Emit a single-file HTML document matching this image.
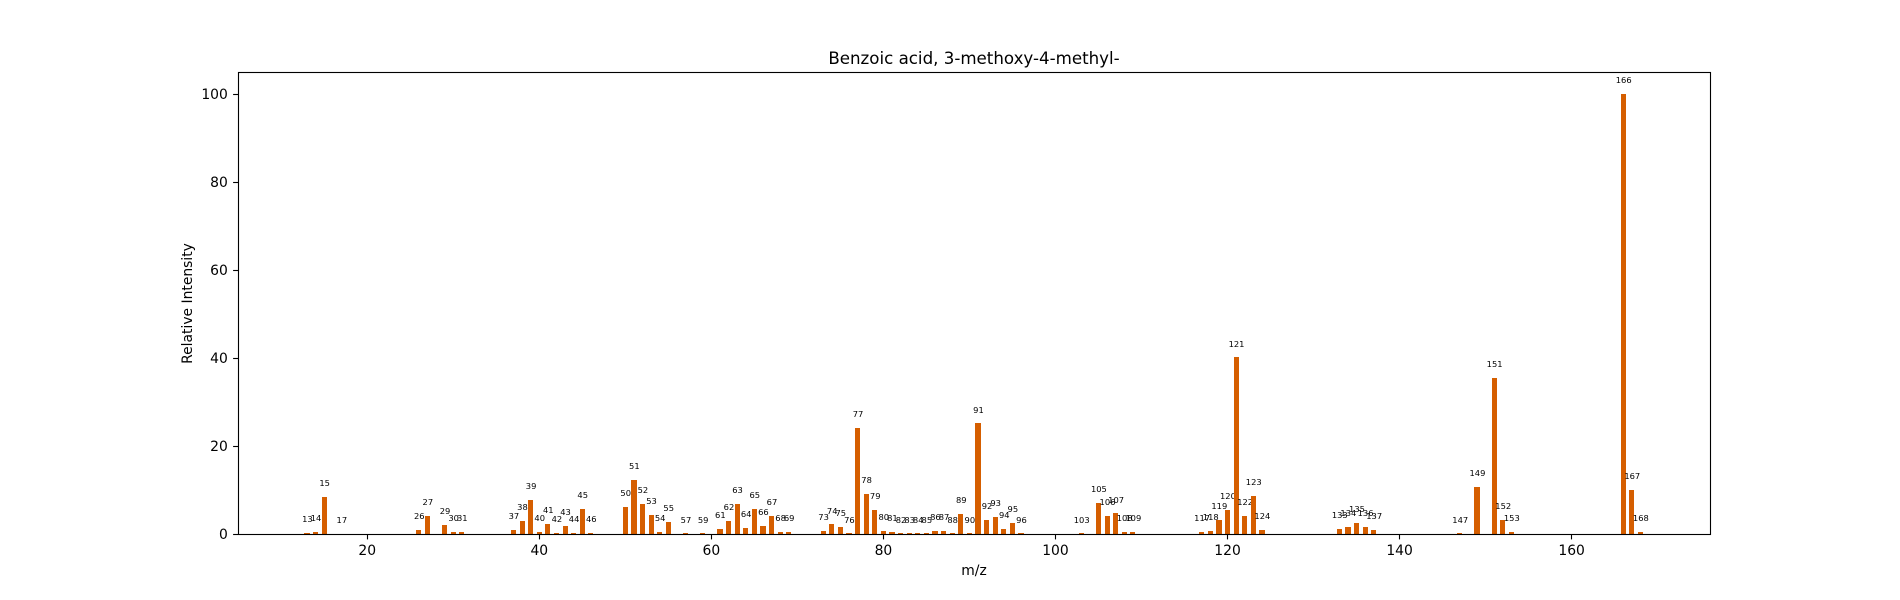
<!DOCTYPE html>
<html lang="en">
<head>
<meta charset="utf-8">
<title>Benzoic acid, 3-methoxy-4-methyl-</title>
<style>
  html, body { margin: 0; padding: 0; background: #ffffff; }
  svg { display: block; }
  text { font-family: "DejaVu Sans", "Liberation Sans", sans-serif; fill: #000000; }
</style>
</head>
<body>
<svg id="chart" xmlns="http://www.w3.org/2000/svg" width="1900" height="600" viewBox="0 0 1900 600">
  <rect x="0" y="0" width="1900" height="600" fill="#ffffff"></rect>
  <text x="974" y="64" font-size="16.67" text-anchor="middle">Benzoic acid, 3-methoxy-4-methyl-</text>
  <text x="974" y="575" font-size="13.89" text-anchor="middle">m/z</text>
  <text x="0" y="0" font-size="13.89" text-anchor="middle" transform="translate(192 303.5) rotate(-90)">Relative Intensity</text>
</svg>
<script>
const mzValues = [13,14,15,17,26,27,29,30,31,37,38,39,40,41,42,43,44,45,46,50,51,52,53,54,55,57,59,61,62,63,64,65,66,67,68,69,73,74,75,76,77,78,79,80,81,82,83,84,85,86,87,88,89,90,91,92,93,94,95,96,103,105,106,107,108,109,117,118,119,120,121,122,123,124,133,134,135,136,137,147,149,151,152,153,166,167,168];
const intensities = [0.3,0.5,8.5,0.1,1.0,4.2,2.1,0.5,0.5,1.0,3.0,7.8,0.5,2.35,0.3,1.9,0.3,5.75,0.3,6.2,12.35,6.9,4.4,0.5,2.8,0.2,0.2,1.15,2.95,6.8,1.35,5.7,1.8,4.1,0.45,0.45,0.7,2.25,1.6,0.2,24.1,9.1,5.45,0.7,0.45,0.2,0.2,0.2,0.2,0.7,0.7,0.2,4.55,0.2,25.2,3.2,3.85,1.15,2.5,0.2,0.2,7.05,4.1,4.75,0.45,0.45,0.45,0.7,3.2,5.45,40.2,4.1,8.65,0.9,1.15,1.6,2.5,1.6,0.9,0.2,10.7,35.45,3.2,0.45,100,10,0.45];
const xTickLabels = [20,40,60,80,100,120,140,160];
const yTickLabels = [0,20,40,60,80,100];

const svgNS = 'http://www.w3.org/2000/svg';
const svg = document.getElementById('chart');
const plot = { left: 237.5, right: 1710, top: 72, bottom: 534 };
const barWidth = 0.6;
const labelGap = 2;
const xMin = Math.min(...mzValues) - barWidth / 2;
const xMax = Math.max(...mzValues) + barWidth / 2;
const xMargin = (xMax - xMin) * 0.05;
const yMax = Math.max(...intensities) * 1.05;

function xScale(v) {
  return plot.left + (v - (xMin - xMargin)) / (xMax - xMin + 2 * xMargin) * (plot.right - plot.left);
}
function yScale(v) {
  return plot.bottom - v / yMax * (plot.bottom - plot.top);
}
function snap(v) {
  return Math.floor(v) + 0.5;
}
function make(tag, attrs) {
  const el = document.createElementNS(svgNS, tag);
  for (const k in attrs) el.setAttribute(k, attrs[k]);
  return el;
}

mzValues.forEach(function (mz, i) {
  const value = intensities[i];
  const left = Math.round(xScale(mz - barWidth / 2));
  const right = Math.round(xScale(mz + barWidth / 2));
  const top = Math.round(yScale(value));
  const bar = make('rect', {
    x: left,
    y: top,
    width: right - left,
    height: Math.max(plot.bottom - top, 0),
    fill: '#D55E00'
  });
  
  
  svg.appendChild(bar);

  const label = make('text', {
    x: xScale(mz) + 0.4,
    y: Math.round(yScale(value + labelGap) - 1.8),
    'font-size': 8.33,
    'text-anchor': 'middle'
  });
  
  
  label.textContent = String(mz);
  svg.appendChild(label);
});

const frame = make('rect', {
  x: snap(plot.left + 0.5),
  y: snap(plot.top),
  width: snap(plot.right) - snap(plot.left + 0.5),
  height: snap(plot.bottom) - snap(plot.top),
  fill: 'none',
  stroke: '#000000',
  'stroke-width': 1.11
});


svg.appendChild(frame);

xTickLabels.forEach(function (t) {
  const px = xScale(t);
  const tick = make('line', { x1: snap(px), x2: snap(px), y1: plot.bottom, y2: plot.bottom + 5.4, stroke: '#000000', 'stroke-width': 1.11 });
  
  
  svg.appendChild(tick);
  const text = make('text', { x: px, y: plot.bottom + 21, 'font-size': 13.89, 'text-anchor': 'middle' });
  
  
  text.textContent = String(t);
  svg.appendChild(text);
});

yTickLabels.forEach(function (t) {
  const py = yScale(t);
  const tick = make('line', { x1: plot.left - 4.4, x2: plot.left + 0.5, y1: snap(py), y2: snap(py), stroke: '#000000', 'stroke-width': 1.11 });
  
  
  svg.appendChild(tick);
  const text = make('text', { x: plot.left - 9.7, y: Math.round(py + 5.05), 'font-size': 13.89, 'text-anchor': 'end' });
  
  
  text.textContent = String(t);
  svg.appendChild(text);
});
</script>
</body>
</html>
